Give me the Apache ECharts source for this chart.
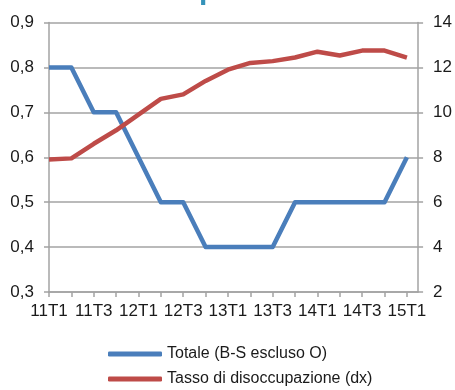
<!DOCTYPE html>
<html>
<head>
<meta charset="utf-8">
<script src="https://cdn.jsdelivr.net/npm/echarts@6/dist/echarts.min.js"></script>
<style>
  html, body { margin: 0; padding: 0; background: #fff; }
  #chart { width: 455px; height: 390px; }
</style>
</head>
<body>
<div id="chart"></div>
<script>
// trimestri
var categories = ['11T1', '11T2', '11T3', '11T4', '12T1', '12T2', '12T3', '12T4',
  '13T1', '13T2', '13T3', '13T4', '14T1', '14T2', '14T3', '14T4', '15T1']
// Totale (B-S escluso O), asse sx
var totale = [0.8, 0.8, 0.7, 0.7, 0.6, 0.5, 0.5, 0.4, 0.4, 0.4, 0.4, 0.5, 0.5, 0.5, 0.5, 0.5, 0.6]
// Tasso di disoccupazione, asse dx
var disoccupazione = [7.9, 7.95, 8.6, 9.2, 9.9, 10.6, 10.8, 11.4, 11.9, 12.2, 12.28, 12.44, 12.7, 12.53, 12.75, 12.75, 12.44]
var leftTicks = { min: 0.3, max: 0.9, step: 0.1 }
var rightTicks = { min: 2, max: 14, step: 2 }

var FONT = '"Liberation Sans", Arial, sans-serif'
var GRIDCOLOR = '#a3a3a3'
var TEXTCOLOR = '#1a1a1a'

var chart = echarts.init(document.getElementById('chart'))

function toPairs(arr) {
  return arr.map(function (v, i) { return [i, v] })
}

// una legenda per riga
function legendRow(name, top) {
  return {
    orient: 'vertical',
    left: 108,
    top: top,
    padding: 0,
    itemWidth: 54,
    itemHeight: 5,
    icon: 'roundRect',
    textStyle: { fontSize: 16, fontFamily: FONT, color: TEXTCOLOR },
    data: [name]
  }
}

var option = {
  animation: false,
  title: {
    text: 'p',
    left: 194,
    top: -29,
    textStyle: { color: '#3592b9', fontSize: 30, fontFamily: FONT, fontWeight: 'bold' }
  },
  grid: { left: 49, right: 36, top: 22.5, bottom: 98 },
  legend: [
    legendRow('Totale (B-S escluso O)', 346),
    legendRow('Tasso di disoccupazione (dx)', 371)
  ],
  xAxis: {
    type: 'value',
    min: 0,
    max: categories.length - 0.5,
    interval: 1,
    splitLine: { show: false },
    axisLine: { show: true, lineStyle: { color: GRIDCOLOR, width: 1.5 } },
    axisTick: { show: true, length: 5, lineStyle: { color: GRIDCOLOR, width: 1.5 } },
    axisLabel: {
      margin: 11,
      fontSize: 17,
      fontFamily: FONT,
      color: TEXTCOLOR,
      showMaxLabel: false,
      formatter: function (v) {
        if (v % 2 === 0 && categories[v]) return categories[v]
        return ''
      }
    }
  },
  yAxis: [
    {
      type: 'value',
      position: 'left',
      min: leftTicks.min,
      max: leftTicks.max,
      interval: leftTicks.step,
      axisLine: { show: true, lineStyle: { color: GRIDCOLOR, width: 1.5 } },
      axisTick: { show: true, length: 5, lineStyle: { color: GRIDCOLOR, width: 1.5 } },
      splitLine: { show: true, lineStyle: { color: GRIDCOLOR, width: 1.5 } },
      axisLabel: {
        margin: 15,
        fontSize: 17,
        fontFamily: FONT,
        color: TEXTCOLOR,
        formatter: function (v) { return v.toFixed(1).replace('.', ',') }
      }
    },
    {
      type: 'value',
      position: 'right',
      min: rightTicks.min,
      max: rightTicks.max,
      interval: rightTicks.step,
      axisLine: { show: true, lineStyle: { color: GRIDCOLOR, width: 1.5 } },
      axisTick: { show: true, length: 5, lineStyle: { color: GRIDCOLOR, width: 1.5 } },
      splitLine: { show: false },
      axisLabel: {
        margin: 15,
        fontSize: 17,
        fontFamily: FONT,
        color: TEXTCOLOR
      }
    }
  ],
  series: [
    {
      name: 'Totale (B-S escluso O)',
      type: 'line',
      yAxisIndex: 0,
      showSymbol: false,
      itemStyle: { color: '#4a7ebb' },
      lineStyle: { color: '#4a7ebb', width: 4.5, join: 'round' },
      data: toPairs(totale)
    },
    {
      name: 'Tasso di disoccupazione (dx)',
      type: 'line',
      yAxisIndex: 1,
      showSymbol: false,
      itemStyle: { color: '#be4b48' },
      lineStyle: { color: '#be4b48', width: 4.5, join: 'round' },
      data: toPairs(disoccupazione)
    }
  ]
}

chart.setOption(option)
</script>
</body>
</html>
